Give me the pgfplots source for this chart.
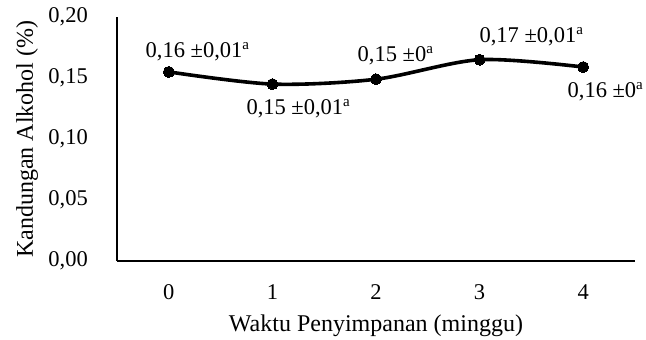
\documentclass[border=0pt]{standalone}
\usepackage{fontspec}
\setmainfont{Liberation Serif}
\usepackage{pgfplots}
\pgfplotsset{compat=1.18}
\newcommand{\sa}{{\fontsize{15}{15}\selectfont\raisebox{8pt}{a}}}
\begin{document}
\begin{tikzpicture}[font=\fontsize{22.5}{27}\selectfont]
\begin{axis}[
  scale only axis,
  width=518pt, height=244pt,
  xmin=-0.5, xmax=4.5,
  ymin=0, ymax=0.2,
  axis lines=left,
  axis line style={-, line width=1.3pt, black},
  xtick={0,1,2,3,4},
  ytick={0,0.05,0.1,0.15,0.2},
  major tick length=0pt,
  tick style={draw=none},
  /pgf/number format/assume math mode=true,
  tick label style={font=\fontsize{22.5}{27}\selectfont},
  y tick label style={/pgf/number format/fixed, /pgf/number format/fixed zerofill, /pgf/number format/precision=2, /pgf/number format/use comma},
  yticklabel style={anchor=east, inner sep=0pt, xshift=-29pt},
  xticklabel style={anchor=north, inner sep=0pt, yshift=-23pt},
  xlabel={Waktu Penyimpanan (minggu)},
  ylabel={Kandungan Alkohol (\%)},
  label style={font=\fontsize{24}{28}\selectfont},
  xlabel style={at={(axis description cs:0.5,-0.266)}, anchor=center},
  ylabel style={at={(axis description cs:-0.1737,0.5)}, anchor=center},
  clip=false,
]
\addplot[black, line width=3.6pt, smooth, tension=0.5, mark=*, mark size=5.5pt, mark options={solid, line width=0pt}]
  coordinates {(0,0.155) (1,0.145) (2,0.149) (3,0.165) (4,0.159)};
\node[anchor=base, inner sep=0pt] at (axis cs:0.276,0.1664) {0,16 ±0,01\sa};
\node[anchor=base, inner sep=0pt] at (axis cs:1.249,0.1197) {0,15 ±0,01\sa};
\node[anchor=base, inner sep=0pt] at (axis cs:2.187,0.1634) {0,15 ±0\sa};
\node[anchor=base, inner sep=0pt] at (axis cs:3.499,0.1789) {0,17 ±0,01\sa};
\node[anchor=base, inner sep=0pt] at (axis cs:4.213,0.1342) {0,16 ±0\sa};
\end{axis}
\pgfresetboundingbox
\path (-117pt,-79pt) rectangle (529pt,261pt);
\end{tikzpicture}
\end{document}
